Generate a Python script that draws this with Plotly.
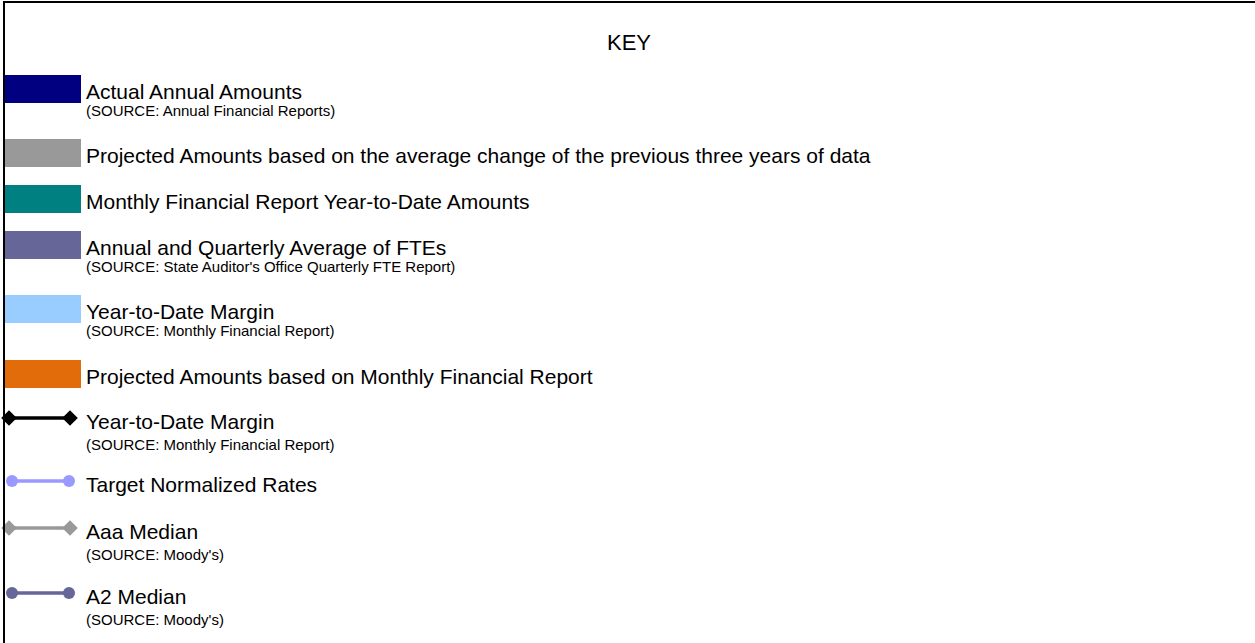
import plotly.graph_objects as go

# ---- data ----
title_text = "KEY"
labels = [
    "Actual Annual Amounts",
    "Projected Amounts based on the average change of the previous three years of data",
    "Monthly Financial Report Year-to-Date Amounts",
    "Annual and Quarterly Average of FTEs",
    "Year-to-Date Margin",
    "Projected Amounts based on Monthly Financial Report",
    "Year-to-Date Margin",
    "Target Normalized Rates",
    "Aaa Median",
    "A2 Median",
]
sources = [
    "(SOURCE: Annual Financial Reports)",
    "",
    "",
    "(SOURCE: State Auditor's Office Quarterly FTE Report)",
    "(SOURCE: Monthly Financial Report)",
    "",
    "(SOURCE: Monthly Financial Report)",
    "",
    "(SOURCE: Moody's)",
    "(SOURCE: Moody's)",
]
kinds = ["box", "box", "box", "box", "box", "box", "line", "line", "line", "line"]
colors = ["#000080", "#999999", "#008080", "#666699", "#99CCFF", "#E36C0A",
          "#000000", "#9999FF", "#999999", "#666699"]
marker_symbols = [None, None, None, None, None, None,
                  "diamond", "circle", "diamond", "circle"]

# ---- layout constants (pixels) ----
W, H = 1255, 643
row_y = [89, 153, 199, 245, 309, 374, 418, 481, 528, 593]
text_x = 84
FONT = "Liberation Sans, Arial, sans-serif"

fig = go.Figure()
shapes = []
annotations = []

# frame (top and left edges)
shapes.append(dict(type="line", xref="x", yref="y", x0=4, x1=W + 5, y0=2, y1=2,
                   line=dict(color="#000000", width=2)))
shapes.append(dict(type="line", xref="x", yref="y", x0=4, x1=4, y0=1, y1=H + 5,
                   line=dict(color="#000000", width=2)))

annotations.append(dict(x=629, y=42, xref="x", yref="y", text=title_text,
                        showarrow=False, xanchor="center", yanchor="middle",
                        font=dict(family=FONT, size=22, color="#000000")))

for lab, src, kind, col, sym, yc in zip(labels, sources, kinds, colors, marker_symbols, row_y):
    if kind == "box":
        fig.add_trace(go.Scatter(
            x=[5, 81, 81, 5, 5], y=[yc - 14, yc - 14, yc + 14, yc + 14, yc - 14],
            mode="lines", fill="toself", fillcolor=col,
            line=dict(width=0, color=col), hoverinfo="skip", showlegend=False))
        main_dy, sub_dy = 2, 21
    else:
        if sym == "diamond":
            xs_line = [5, 70]
            xs_mark = [9, 70]
            msize = 12
        else:
            xs_line = [12, 69]
            xs_mark = [12, 69]
            msize = 12
        fig.add_trace(go.Scatter(
            x=xs_line, y=[yc, yc], mode="lines",
            line=dict(color=col, width=3.5), hoverinfo="skip", showlegend=False))
        fig.add_trace(go.Scatter(
            x=xs_mark, y=[yc, yc], mode="markers",
            marker=dict(symbol=sym, size=msize, color=col, line=dict(width=0)),
            hoverinfo="skip", showlegend=False))
        main_dy, sub_dy = 3, 26
    annotations.append(dict(x=text_x, y=yc + main_dy, xref="x", yref="y", text=lab,
                            showarrow=False, xanchor="left", yanchor="middle",
                            font=dict(family=FONT, size=21, color="#000000")))
    if src:
        annotations.append(dict(x=text_x, y=yc + sub_dy, xref="x", yref="y", text=src,
                                showarrow=False, xanchor="left", yanchor="middle",
                                font=dict(family=FONT, size=15, color="#000000")))

fig.update_layout(
    width=W, height=H,
    margin=dict(l=0, r=0, t=0, b=0),
    paper_bgcolor="#FFFFFF", plot_bgcolor="#FFFFFF",
    xaxis=dict(range=[0, W], visible=False, fixedrange=True),
    yaxis=dict(range=[H, 0], visible=False, fixedrange=True),
    shapes=shapes, annotations=annotations,
    showlegend=False,
)

fig.write_html("out.html", config={"displayModeBar": False},
               post_script="document.body.style.margin='0';document.body.style.overflow='hidden';")
